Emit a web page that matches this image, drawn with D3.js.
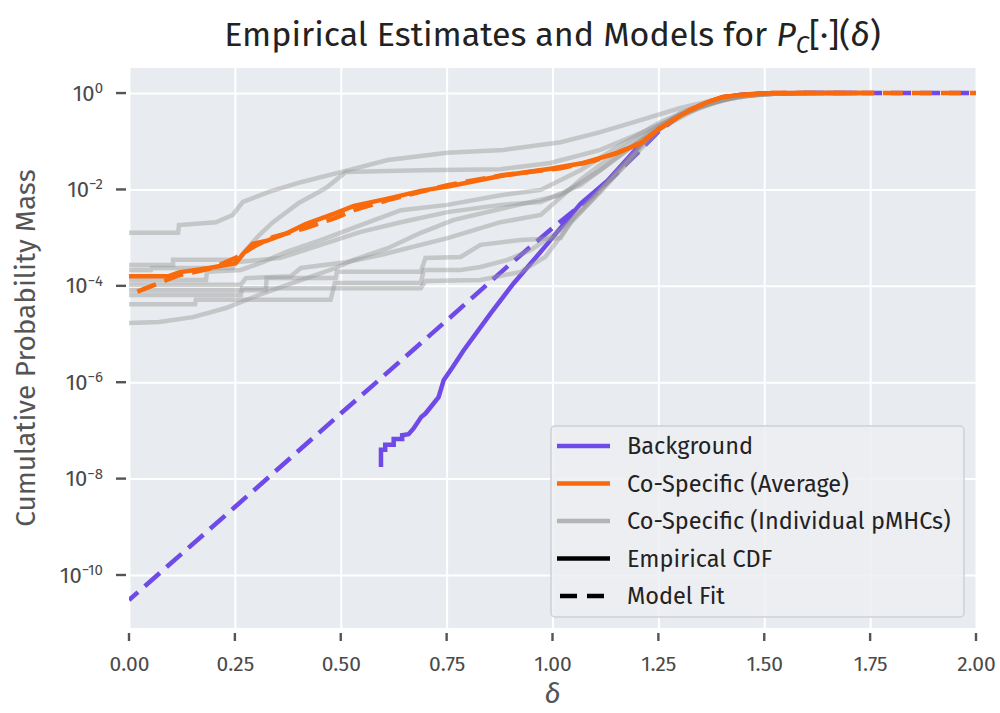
<!DOCTYPE html>
<html>
<head>
<meta charset="utf-8">
<script src="https://cdn.jsdelivr.net/npm/d3@7"></script>
<style>
  body { margin: 0; background: #fff; }
  svg text { font-family: "Fira Sans", "Noto Sans", "Open Sans", sans-serif; }
  .domain { display: none; }
  .grid .tick line { stroke: #fff; stroke-width: 2px; }
</style>
</head>
<body>
<div id="chart"></div>
<script>
// Data: [delta, log10(cumulative probability mass)]
const xTicks = [0, 0.25, 0.5, 0.75, 1.0, 1.25, 1.5, 1.75, 2.0];
const yTickExps = [0, -2, -4, -6, -8, -10];

const backgroundFit = [[0,-10.52],[0.25,-8.59],[0.5,-6.65],[0.75,-4.72],[0.9,-3.55],[1.0,-2.80],[1.1,-2.09],[1.15,-1.68],[1.2,-1.25],[1.25,-0.80],[1.3,-0.47],[1.35,-0.25],[1.4,-0.10],[1.45,-0.04],[1.5,-0.01],[1.6,0],[2.0,0]];
const backgroundEmp = [[0.595,-7.76],[0.595,-7.40],[0.605,-7.40],[0.605,-7.30],[0.625,-7.30],[0.625,-7.18],[0.645,-7.18],[0.645,-7.10],[0.66,-7.08],[0.672,-6.96],[0.69,-6.72],[0.70,-6.65],[0.712,-6.52],[0.731,-6.31],[0.743,-5.96],[0.764,-5.69],[0.79,-5.34],[0.854,-4.57],[0.908,-3.95],[0.988,-3.13],[1.066,-2.30],[1.13,-1.82],[1.21,-1.04],[1.28,-0.55],[1.33,-0.33],[1.37,-0.18],[1.40,-0.09],[1.45,-0.03],[1.5,-0.01],[1.6,0],[1.72,0]];
const averageEmp = [[0,-3.80],[0.094,-3.80],[0.118,-3.72],[0.189,-3.63],[0.252,-3.53],[0.269,-3.34],[0.292,-3.13],[0.323,-3.07],[0.370,-2.92],[0.417,-2.72],[0.488,-2.49],[0.531,-2.34],[0.611,-2.19],[0.689,-2.03],[0.759,-1.93],[0.877,-1.72],[0.995,-1.57],[1.073,-1.45],[1.153,-1.24],[1.208,-1.04],[1.25,-0.75],[1.285,-0.56],[1.325,-0.35],[1.366,-0.19],[1.403,-0.08],[1.443,-0.04],[1.52,0],[1.76,0]];
const averageFit = [[0,-4.19],[0.06,-3.98],[0.118,-3.78],[0.198,-3.63],[0.252,-3.42],[0.292,-3.20],[0.340,-2.99],[0.417,-2.80],[0.488,-2.59],[0.531,-2.43],[0.611,-2.22],[0.752,-1.91],[0.884,-1.70],[1.019,-1.56],[1.10,-1.40],[1.15,-1.25],[1.208,-1.04],[1.25,-0.76],[1.285,-0.56],[1.325,-0.35],[1.366,-0.19],[1.403,-0.08],[1.443,-0.04],[1.52,0],[2.0,0]];

// individual pMHC empirical CDFs
const pmhc1 = [[0,-2.90],[0.116,-2.90],[0.118,-2.74],[0.205,-2.68],[0.245,-2.53],[0.269,-2.26],[0.330,-2.05],[0.406,-1.85],[0.500,-1.64],[0.611,-1.39],[0.752,-1.24],[0.884,-1.18],[1.019,-1.02],[1.113,-0.81],[1.208,-0.56],[1.302,-0.31],[1.396,-0.12],[1.491,-0.02],[1.60,0]];
const pmhc2 = [[0,-3.57],[0.104,-3.57],[0.104,-3.46],[0.259,-3.46],[0.276,-3.26],[0.307,-2.95],[0.340,-2.68],[0.401,-2.28],[0.465,-1.97],[0.512,-1.64],[0.689,-1.60],[0.877,-1.58],[0.995,-1.45],[1.113,-1.18],[1.208,-0.83],[1.302,-0.46],[1.396,-0.15],[1.491,-0.02],[1.60,0]];
const pmhc3 = [[0,-3.88],[0.182,-3.88],[0.184,-3.71],[0.264,-3.67],[0.316,-3.51],[0.370,-3.30],[0.453,-3.05],[0.547,-2.74],[0.642,-2.43],[0.752,-2.32],[0.877,-2.12],[0.972,-2.01],[1.066,-1.60],[1.160,-1.08],[1.255,-0.60],[1.349,-0.25],[1.443,-0.06],[1.55,0]];
const pmhc4 = [[0,-3.98],[0.264,-3.98],[0.276,-3.84],[0.382,-3.80],[0.406,-3.63],[0.512,-3.51],[0.594,-3.36],[0.752,-3.01],[0.877,-2.68],[0.972,-2.53],[1.066,-1.80],[1.160,-1.18],[1.255,-0.66],[1.349,-0.27],[1.443,-0.06],[1.55,0]];
const pmhc5 = [[0,-4.09],[0.323,-4.09],[0.325,-3.84],[0.488,-3.84],[0.491,-3.71],[0.689,-3.71],[0.700,-3.42],[0.783,-3.40],[0.830,-3.15],[0.925,-3.05],[1.019,-3.01],[1.054,-2.53],[1.113,-2.01],[1.184,-1.39],[1.255,-0.73],[1.349,-0.29],[1.443,-0.06],[1.55,0]];
const pmhc6 = [[0,-4.19],[0.264,-4.19],[0.267,-4.05],[0.483,-4.05],[0.486,-3.94],[0.689,-3.94],[0.696,-3.67],[0.783,-3.67],[0.830,-3.61],[0.894,-3.46],[0.948,-3.26],[1.019,-2.84],[1.066,-2.47],[1.113,-2.05],[1.172,-1.49],[1.231,-0.87],[1.302,-0.41],[1.396,-0.12],[1.491,-0.02],[1.6,0]];
const pmhc7 = [[0,-4.77],[0.071,-4.75],[0.151,-4.65],[0.229,-4.46],[0.307,-4.19],[0.387,-3.94],[0.488,-3.63],[0.531,-3.46],[0.611,-3.22],[0.689,-2.90],[0.767,-2.63],[0.884,-2.39],[1.019,-2.12],[1.113,-1.60],[1.208,-0.98],[1.302,-0.46],[1.396,-0.15],[1.491,-0.02],[1.6,0]];
const pmhc8 = [[0,-4.38],[0.156,-4.38],[0.158,-4.29],[0.476,-4.29],[0.483,-4.05],[0.689,-4.05],[0.700,-3.90],[0.830,-3.88],[0.925,-3.71],[0.983,-3.40],[1.042,-2.70],[1.090,-2.25],[1.160,-1.55],[1.231,-0.87],[1.325,-0.35],[1.420,-0.08],[1.52,0]];
const pmhc9 = [[0,-3.67],[0.052,-3.67],[0.054,-3.63],[0.245,-3.63],[0.252,-3.51],[0.358,-3.42],[0.453,-3.15],[0.547,-2.88],[0.642,-2.68],[0.752,-2.47],[0.877,-2.32],[0.972,-2.26],[1.066,-1.91],[1.160,-1.29],[1.255,-0.66],[1.349,-0.27],[1.443,-0.06],[1.55,0]];
const pmhcLines = [pmhc1, pmhc2, pmhc3, pmhc4, pmhc5, pmhc6, pmhc7, pmhc8, pmhc9];

const legendLabels = ["Background", "Co-Specific (Average)", "Co-Specific (Individual pMHCs)", "Empirical CDF", "Model Fit"];

const purple = "#6f4ae8";
const orange = "#f96a0c";

// Step 1: Set up the chart
//=========================
const svgWidth = 1000;
const svgHeight = 713;
const margin = { top: 68, right: 24, bottom: 85, left: 129 };
const width = svgWidth - margin.left - margin.right;
const height = svgHeight - margin.top - margin.bottom;

const svg = d3.select("#chart")
  .append("svg")
  .attr("width", svgWidth)
  .attr("height", svgHeight);

const chartGroup = svg.append("g")
  .attr("transform", `translate(${margin.left}, ${margin.top})`);

// Step 2: Scales
//=========================
const x = d3.scaleLinear().domain([0, 2]).range([0, width]);
const y = d3.scaleLog().domain([Math.pow(10, -11.1), Math.pow(10, 0.52)]).range([height, 0]);
const yTicks = yTickExps.map(e => Math.pow(10, e));

chartGroup.append("rect")
  .attr("width", width)
  .attr("height", height)
  .attr("fill", "#e8ebef");

chartGroup.append("clipPath").attr("id", "clip")
  .append("rect").attr("width", width).attr("height", height);

// Step 3: grid + axes
//=========================
chartGroup.append("g")
  .attr("class", "grid")
  .attr("transform", `translate(0, ${height})`)
  .call(d3.axisBottom(x).tickValues(xTicks).tickSize(-height).tickFormat(""));

chartGroup.append("g")
  .attr("class", "grid")
  .call(d3.axisLeft(y).tickValues(yTicks).tickSize(-width).tickFormat(""));

const xAxis = chartGroup.append("g")
  .attr("transform", `translate(0, ${height + 5})`)
  .call(d3.axisBottom(x).tickValues(xTicks).tickSize(0).tickPadding(23).tickFormat(d3.format(".2f")));
xAxis.selectAll("text").attr("font-size", 21).attr("fill", "#4a4a4a");

const yAxis = chartGroup.append("g")
  .attr("transform", "translate(-3, 0)")
  .call(d3.axisLeft(y).tickValues(yTicks).tickSize(0).tickPadding(23).tickFormat(""));
yAxis.selectAll(".tick text")
  .attr("font-size", 22)
  .attr("fill", "#4a4a4a")
  .each(function (d) {
    const t = d3.select(this);
    const e = Math.round(Math.log10(d));
    t.append("tspan").text("10");
    t.append("tspan")
      .attr("dy", "-0.5em")
      .attr("font-size", 15)
      .text(e < 0 ? "\u2212" + (-e) : e);
  });

// short gray tick marks, drawn outside the axes area
const tickMarks = chartGroup.append("g");
tickMarks.selectAll(".xmark")
  .data(xTicks)
  .enter()
  .append("rect")
  .attr("x", d => x(d) - 1.2)
  .attr("y", height + 5)
  .attr("width", 2.4)
  .attr("height", 8)
  .attr("fill", "#555");
tickMarks.selectAll(".ymark")
  .data(yTicks)
  .enter()
  .append("rect")
  .attr("x", -13)
  .attr("y", d => y(d) - 1.2)
  .attr("width", 10)
  .attr("height", 2.4)
  .attr("fill", "#555");

// Step 4: lines
//=========================
const line = d3.line()
  .x(d => x(d[0]))
  .y(d => y(Math.pow(10, d[1])));

const plot = chartGroup.append("g").attr("clip-path", "url(#clip)");

plot.append("path")
  .attr("d", line(backgroundEmp))
  .attr("fill", "none").attr("stroke", purple).attr("stroke-width", 4.5);
plot.append("path")
  .attr("d", line(backgroundFit))
  .attr("fill", "none").attr("stroke", purple).attr("stroke-width", 4.5)
  .attr("stroke-dasharray", "20,9").attr("stroke-dashoffset", 8);

plot.selectAll(".pmhc")
  .data(pmhcLines)
  .enter()
  .append("path")
  .attr("class", "pmhc")
  .attr("d", d => line(d))
  .attr("fill", "none")
  .attr("stroke", "#999")
  .attr("stroke-opacity", 0.45)
  .attr("stroke-width", 4.5);

plot.append("path")
  .attr("d", line(averageEmp))
  .attr("fill", "none").attr("stroke", orange).attr("stroke-width", 4.5);
plot.append("path")
  .attr("d", line(averageFit))
  .attr("fill", "none").attr("stroke", orange).attr("stroke-width", 4.5)
  .attr("stroke-dasharray", "20,9").attr("stroke-dashoffset", 20);

// Step 5: titles
//=========================
const title = svg.append("text")
  .attr("x", margin.left + width / 2)
  .attr("y", 46)
  .attr("text-anchor", "middle")
  .attr("font-size", 34)
  .attr("fill", "#222");
title.append("tspan").text("Empirical Estimates and Models for ");
title.append("tspan").attr("font-style", "italic").text("P");
title.append("tspan").attr("font-style", "italic").attr("font-size", 24).attr("dy", 7).text("C");
title.append("tspan").attr("dy", -7).text("[\u00b7](");
title.append("tspan").attr("font-style", "italic").text("\u03b4");
title.append("tspan").text(")");

svg.append("text")
  .attr("transform", `translate(35, ${margin.top + height / 2}) rotate(-90)`)
  .attr("text-anchor", "middle")
  .attr("font-size", 28)
  .attr("fill", "#555")
  .text("Cumulative Probability Mass");

svg.append("text")
  .attr("x", margin.left + width / 2)
  .attr("y", 703)
  .attr("text-anchor", "middle")
  .attr("font-size", 28)
  .attr("font-style", "italic")
  .attr("fill", "#555")
  .text("\u03b4");

// Step 6: legend
//=========================
const legend = svg.append("g").attr("transform", "translate(551, 426)");
legend.append("rect")
  .attr("width", 413).attr("height", 191)
  .attr("rx", 4)
  .attr("fill", "#edeff2").attr("fill-opacity", 0.85)
  .attr("stroke", "#cfd1d4").attr("stroke-width", 1.5);

const legendStyle = [
  { color: purple, dash: null },
  { color: orange, dash: null },
  { color: "#b4b4b4", dash: null },
  { color: "#000", dash: null },
  { color: "#000", dash: "17,10" }
];

const rows = legend.selectAll(".row")
  .data(legendLabels)
  .enter()
  .append("g")
  .attr("transform", (d, i) => `translate(0, ${20 + i * 37.5})`);

rows.append("line")
  .attr("x1", (d, i) => i === 4 ? 9 : 6).attr("x2", 59)
  .attr("stroke", (d, i) => legendStyle[i].color)
  .attr("stroke-width", 4.5)
  .attr("stroke-dasharray", (d, i) => legendStyle[i].dash);

rows.append("text")
  .attr("x", 76)
  .attr("dy", "0.35em")
  .attr("font-size", 23.5)
  .attr("fill", "#222")
  .text(d => d);
</script>
</body>
</html>
